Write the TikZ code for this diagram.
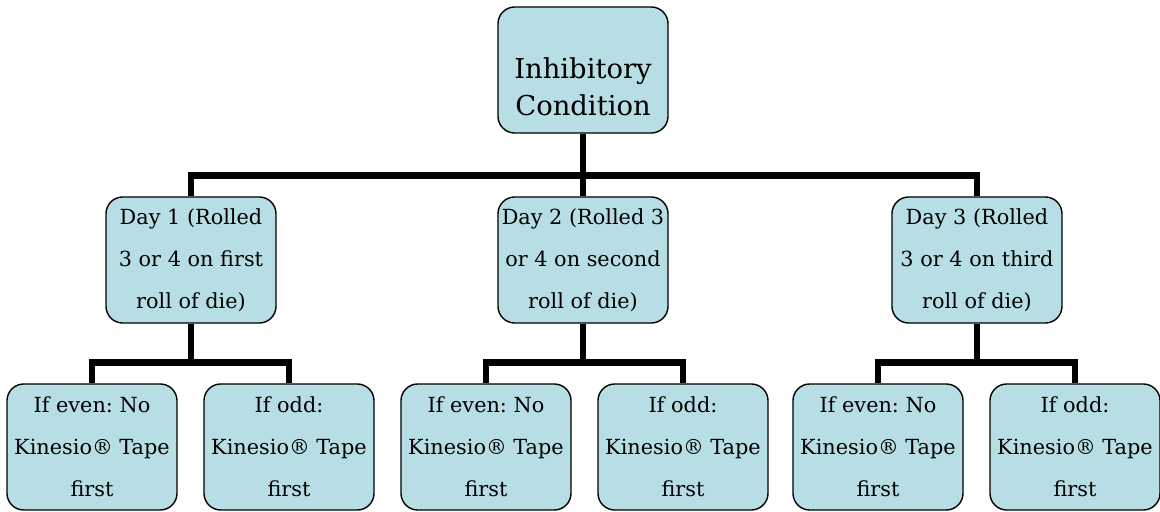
\documentclass[tikz,border=0pt]{standalone}
\usepackage{fontspec}
\setmainfont{DejaVu Serif}
\usepackage{tikz}
\usetikzlibrary{backgrounds}
\definecolor{boxblue}{RGB}{183,222,228}
\frenchspacing

\tikzset{
  box/.style={draw, fill=boxblue, line width=1pt, rounded corners=0.42cm,
    minimum width=4.25cm, minimum height=3.15cm,
    align=center, inner sep=0pt},
  small/.style={font=\fontsize{14.8}{30}\selectfont},
  big/.style={font=\fontsize{19.5}{26.5}\selectfont, align=center},
  conn/.style={line width=4.6pt}
}

\begin{document}
\begin{tikzpicture}[x=0.025cm, y=-0.025cm]
      \useasboundingbox (0,0) rectangle (1160,512);
      \node[box] (top) at (583,70) {};
      \node[big] (toptext) at ([yshift=-12pt]top.center) {Inhibitory\\Condition};
      \node[box, small] (day1) at (191,260) {Day 1 (Rolled\\3 or 4 on first\\roll of die)};
      \node[box, small] (day2) at (583,260) {Day 2 (Rolled 3\\or 4 on second\\roll of die)};
      \node[box, small] (day3) at (977,260) {Day 3 (Rolled\\3 or 4 on third\\roll of die)};
      \foreach \d/\x in {1/92, 2/486, 3/878}{
          \node[box, small] (even\d) at (\x,447) {If even: No\\Kinesio® Tape\\first};
      }
      \foreach \d/\x in {1/289, 2/683, 3/1075}{
          \node[box, small] (odd\d) at (\x,447) {If odd:\\Kinesio® Tape\\first};
      }
      \begin{scope}[on background layer]
      \draw[conn] (top.south) -- ++(0,42) -| (day1.north);
      \draw[conn] (top.south) -- ++(0,42) -| (day3.north);
      \draw[conn] (top.south) -- (day2.north);
      \foreach \d in {1,2,3}{
          \draw[conn] (day\d.south) -- ++(0,39) -| (even\d.north);
          \draw[conn] (day\d.south) -- ++(0,39) -| (odd\d.north);
      }
      \end{scope}
  \end{tikzpicture}
\end{document}
